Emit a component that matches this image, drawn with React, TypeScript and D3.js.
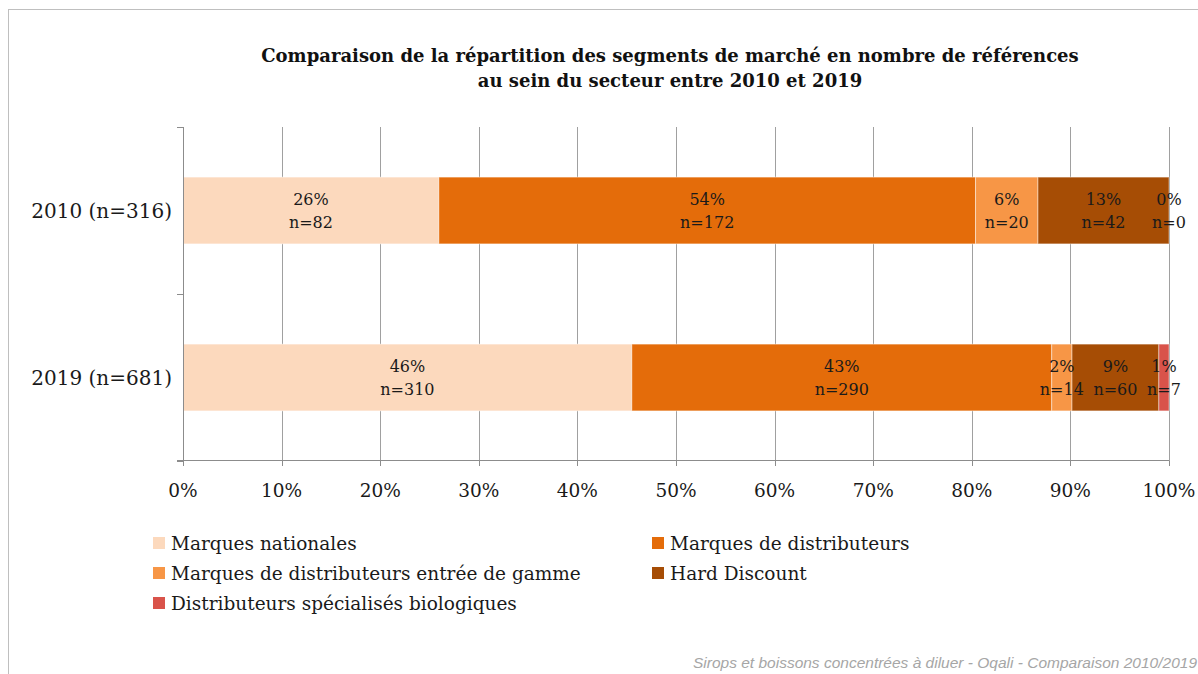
import { useEffect, useRef } from "react";
import * as d3 from "d3";

const years = ["2010 (n=316)", "2019 (n=681)"];
const segments = [
  "Marques nationales",
  "Marques de distributeurs",
  "Marques de distributeurs entrée de gamme",
  "Hard Discount",
  "Distributeurs spécialisés biologiques",
];
const colors = ["#FCD9BD", "#E46C0A", "#F79646", "#A64D05", "#D9534A"];
const counts2010 = [82, 172, 20, 42, 0];
const counts2019 = [310, 290, 14, 60, 7];
const ticks = [0, 0.1, 0.2, 0.3, 0.4, 0.5, 0.6, 0.7, 0.8, 0.9, 1];

const titleLines = [
  "Comparaison de la répartition des segments de marché en nombre de références",
  "au sein du secteur entre 2010 et 2019",
];
const footer = "Sirops et boissons concentrées à diluer - Oqali - Comparaison 2010/2019";

const SERIF = "'DejaVu Serif', 'Liberation Serif', serif";

type Row = { year: string; [k: string]: number | string };

export default function App(): JSX.Element {
  const ref = useRef<SVGSVGElement | null>(null);

  useEffect(() => {
    if (!ref.current) return;
    const W = 1198;
    const H = 674;
    const svg = d3.select(ref.current).attr("width", W).attr("height", H);
    svg.selectAll("*").remove();

    // outer frame (runs off the right / bottom of the page)
    svg
      .append("rect")
      .attr("x", 8.5)
      .attr("y", 9.5)
      .attr("width", W + 20)
      .attr("height", H + 20)
      .attr("fill", "#fff")
      .attr("stroke", "#bfbfbf");

    const rows: Row[] = [counts2010, counts2019].map((c, i) => {
      const r: Row = { year: years[i] };
      segments.forEach((s, j) => (r[s] = c[j]));
      return r;
    });
    const totals = [counts2010, counts2019].map((c) => d3.sum(c));

    const x = d3.scaleLinear().domain([0, 1]).range([183, 1169]);
    const y = d3
      .scaleBand<string>()
      .domain(years)
      .range([127, 461])
      .paddingInner(0.6)
      .paddingOuter(0.3);

    const color = d3.scaleOrdinal<string>().domain(segments).range(colors);

    const stacked = d3
      .stack<Row>()
      .keys(segments)
      .value((d, k) => d[k] as number)
      .offset(d3.stackOffsetExpand)(rows);

    // gridlines
    svg
      .append("g")
      .selectAll("line")
      .data(ticks.slice(1))
      .join("line")
      .attr("x1", (d) => Math.round(x(d)) + 0.5)
      .attr("x2", (d) => Math.round(x(d)) + 0.5)
      .attr("y1", 127)
      .attr("y2", 461)
      .attr("stroke", "#a0a0a0");

    // bars
    const layers = svg
      .append("g")
      .selectAll("g")
      .data(stacked)
      .join("g")
      .attr("fill", (d) => color(d.key));

    layers
      .selectAll("rect")
      .data((d) => d)
      .join("rect")
      .attr("x", (d) => x(d[0]))
      .attr("width", (d) => x(d[1]) - x(d[0]))
      .attr("y", (d) => y(d.data.year as string)!)
      .attr("height", y.bandwidth())
      .attr("stroke", "rgba(255,255,255,0.45)")
      .attr("stroke-width", 1);

    // segment labels
    stacked.forEach((layer, li) => {
      layer.forEach((d, ri) => {
        const v = [counts2010, counts2019][ri][li];
        const cx = (x(d[0]) + x(d[1])) / 2;
        const cy = y(d.data.year as string)! + y.bandwidth() / 2;
        const t = svg
          .append("text")
          .attr("x", cx)
          .attr("text-anchor", "middle")
          .attr("font-family", SERIF)
          .attr("font-size", 16)
          .attr("fill", "#1a1a1a");
        t.append("tspan")
          .attr("x", cx)
          .attr("y", cy - 6)
          .text(`${Math.round((v / totals[ri]) * 100)}%`);
        t.append("tspan").attr("x", cx).attr("y", cy + 17).text(`n=${v}`);
      });
    });

    // axes
    const axisColor = "#8c8c8c";
    svg
      .append("line")
      .attr("x1", 183.5)
      .attr("x2", 183.5)
      .attr("y1", 127)
      .attr("y2", 461)
      .attr("stroke", axisColor);
    svg
      .append("g")
      .selectAll("line")
      .data([127, 294, 461])
      .join("line")
      .attr("x1", 177)
      .attr("x2", 183)
      .attr("y1", (d) => d + 0.5)
      .attr("y2", (d) => d + 0.5)
      .attr("stroke", axisColor);
    svg
      .append("line")
      .attr("x1", 177)
      .attr("x2", 1169)
      .attr("y1", 460.5)
      .attr("y2", 460.5)
      .attr("stroke", axisColor);
    svg
      .append("g")
      .selectAll("line")
      .data(ticks)
      .join("line")
      .attr("x1", (d) => Math.round(x(d)) + 0.5)
      .attr("x2", (d) => Math.round(x(d)) + 0.5)
      .attr("y1", 461)
      .attr("y2", 466)
      .attr("stroke", axisColor);

    svg
      .append("g")
      .selectAll("text")
      .data(ticks)
      .join("text")
      .attr("x", (d) => x(d))
      .attr("y", 497)
      .attr("text-anchor", "middle")
      .attr("font-family", SERIF)
      .attr("font-size", 18.5)
      .attr("fill", "#1a1a1a")
      .text((d) => d3.format(".0%")(d));

    svg
      .append("g")
      .selectAll("text")
      .data(years)
      .join("text")
      .attr("x", 172)
      .attr("y", (d) => y(d)! + y.bandwidth() / 2 + 7)
      .attr("text-anchor", "end")
      .attr("font-family", SERIF)
      .attr("font-size", 20)
      .attr("fill", "#1a1a1a")
      .text((d) => d);

    // title
    svg
      .append("g")
      .selectAll("text")
      .data(titleLines)
      .join("text")
      .attr("x", 670)
      .attr("y", (_, i) => 62 + i * 25)
      .attr("text-anchor", "middle")
      .attr("font-family", SERIF)
      .attr("font-weight", "bold")
      .attr("font-size", 18)
      .attr("fill", "#111")
      .text((d) => d);

    // legend
    const legend = svg
      .append("g")
      .selectAll("g")
      .data(segments)
      .join("g")
      .attr("transform", (_, i) => `translate(${i % 2 === 0 ? 153 : 652},${543 + Math.floor(i / 2) * 30})`);
    legend
      .append("rect")
      .attr("x", 0)
      .attr("y", -6)
      .attr("width", 12)
      .attr("height", 12)
      .attr("fill", (d) => color(d));
    legend
      .append("text")
      .attr("x", 18)
      .attr("y", 7)
      .attr("font-family", SERIF)
      .attr("font-size", 18.5)
      .attr("fill", "#1a1a1a")
      .text((d) => d);

    // footer
    svg
      .append("text")
      .attr("x", 1197)
      .attr("y", 668)
      .attr("text-anchor", "end")
      .attr("font-family", "'Liberation Sans', sans-serif")
      .attr("font-style", "italic")
      .attr("font-size", 15.5)
      .attr("fill", "#a6a6a6")
      .text(footer);
  }, []);

  return <svg ref={ref} style={{ position: "absolute", left: 0, top: 0 }} />;
}
